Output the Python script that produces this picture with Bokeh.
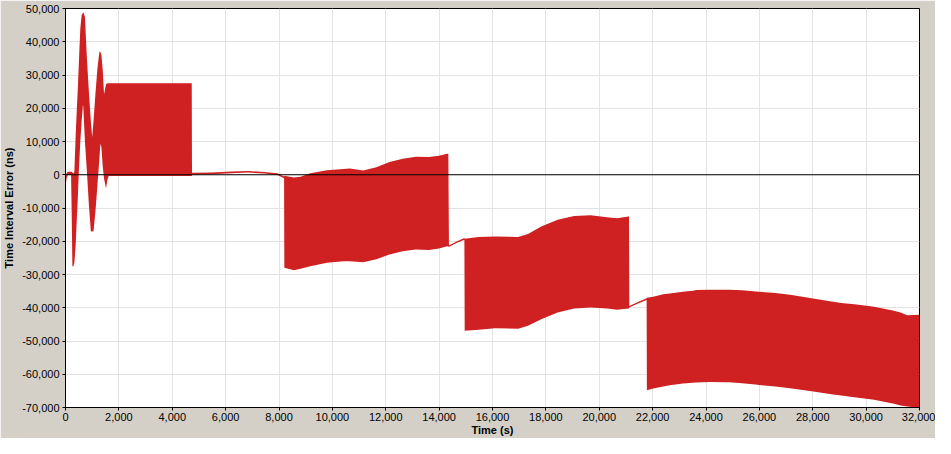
from bokeh.plotting import figure
from bokeh.models import Range1d, SingleIntervalTicker, NumeralTickFormatter, Span
from bokeh.embed import file_html
from bokeh.resources import INLINE

# envelope of the time interval error trace
t = [
    0, 36, 85, 209, 234, 258, 295, 332, 382, 431, 456, 505, 555, 604, 654, 666,
    728, 802, 876, 950, 999, 1049, 1123, 1197, 1271, 1308, 1345, 1395, 1444,
    1518, 1568, 1617, 2500, 3500, 4730,
    4740, 5470, 6211, 6830, 7448, 7941, 8190,
    8200, 8561, 8806, 9176, 9795, 10414, 10658, 11155, 11648, 12140, 12637,
    13130, 13623, 13994, 14305, 14345,
    14368, 14650, 14946,
    14958, 15477, 16095, 16960, 17330, 17826, 18441, 19060, 19678, 20294,
    20665, 21098, 21115,
    21125, 21450, 21775,
    21785, 22022, 22396, 22643, 23137, 23507, 23631, 24126, 24742, 24868,
    25360, 25854, 25978, 26595, 26842, 27213, 27955, 28696, 29066, 29560,
    30301, 31042, 31289, 31537, 32000,
]
upper = [
    -1400, 400, 900, 900, 900, 700, 400, 900, 12000, 21000, 25000, 34500, 44000,
    48000, 48700, 48900, 47500, 35000, 25000, 16000, 11300, 16000, 24500, 32000,
    37000, 36900, 36000, 31500, 24200, 27200, 27500, 27500, 27500, 27500, 27500,
    600, 650, 950, 1150, 850, 450, -550,
    -330, -840, -630, 450, 1350, 1760, 1900, 1250, 2240, 3850, 4840, 5430,
    5340, 5700, 6330, 6330,
    -21250, -20050, -19050,
    -19250, -18750, -18550, -18750, -17850, -15560, -13570, -12380, -12180,
    -12780, -13070, -12570, -12570,
    -39450, -38250, -37150,
    -37000, -36700, -35970, -35700, -35170, -34900, -34670, -34600, -34570,
    -34600, -34770, -35100, -35170, -35570, -35800, -36160, -37160, -38150,
    -38550, -38950, -39730, -40930, -41400, -42240, -42140,
]
lower = [
    -4600, -1100, -100, -100, -12600, -27500, -27500, -26500, -21000, -12000,
    -8000, 2000, 10000, 16000, 21000, 20500, 10000, 1000, -9000, -17000, -17100,
    -17000, -11000, -3000, 5000, 9300, 8300, 2500, -1100, -4100, -1600, -400,
    -400, -400, -400,
    100, 150, 450, 650, 350, -50, -1050,
    -28000, -28700, -28300, -27500, -26500, -26000, -26000, -26300, -25400,
    -24000, -23000, -22500, -22600, -22200, -21500, -21500,
    -21750, -20550, -19550,
    -46900, -46600, -46200, -46300, -45400, -43430, -41430, -40240, -39940,
    -40240, -40630, -40240, -40240,
    -39950, -38750, -37650,
    -64800, -64320, -63700, -63320, -62750, -62530, -62500, -62330, -62400,
    -62430, -62700, -63120, -63200, -63700, -63920, -64300, -65110, -66000,
    -66410, -66900, -67700, -68900, -69400, -69700, -70100,
]

p = figure(width=935, height=438, output_backend="svg", toolbar_location=None,
           x_range=Range1d(0, 32000), y_range=Range1d(-70000, 50000),
           min_border_left=58, min_border_right=16, min_border_top=8,
           min_border_bottom=26)

p.background_fill_color = "white"
p.border_fill_color = "#d4d0c8"
p.outline_line_color = "black"
p.outline_line_width = 1

p.varea(x=t, y1=lower, y2=upper, fill_color="#cf2121")
p.add_layout(Span(location=0, dimension="width", line_color="black", line_width=1))

p.xaxis.ticker = SingleIntervalTicker(interval=2000)
p.yaxis.ticker = SingleIntervalTicker(interval=10000)
p.xaxis.formatter = NumeralTickFormatter(format="0,0")
p.yaxis.formatter = NumeralTickFormatter(format="0,0")
p.xaxis.axis_label = "Time (s)"
p.yaxis.axis_label = "Time Interval Error (ns)"

for ax in (p.xaxis, p.yaxis):
    ax.axis_line_color = "black"
    ax.major_tick_line_color = "black"
    ax.major_tick_out = 3
    ax.major_tick_in = 0
    ax.minor_tick_line_color = None
    ax.major_label_text_font = "Liberation Sans"
    ax.major_label_text_font_size = "11px"
    ax.major_label_text_color = "black"
    ax.major_label_standoff = 2
    ax.axis_label_text_font = "Liberation Sans"
    ax.axis_label_text_font_size = "11px"
    ax.axis_label_text_font_style = "bold"
    ax.axis_label_text_color = "black"
p.xaxis.major_label_standoff = 1
p.xaxis.axis_label_standoff = 0
p.yaxis.axis_label_standoff = 4

p.grid.grid_line_color = "#e3e3e3"

open("out.html", "w").write(file_html(p, INLINE))
